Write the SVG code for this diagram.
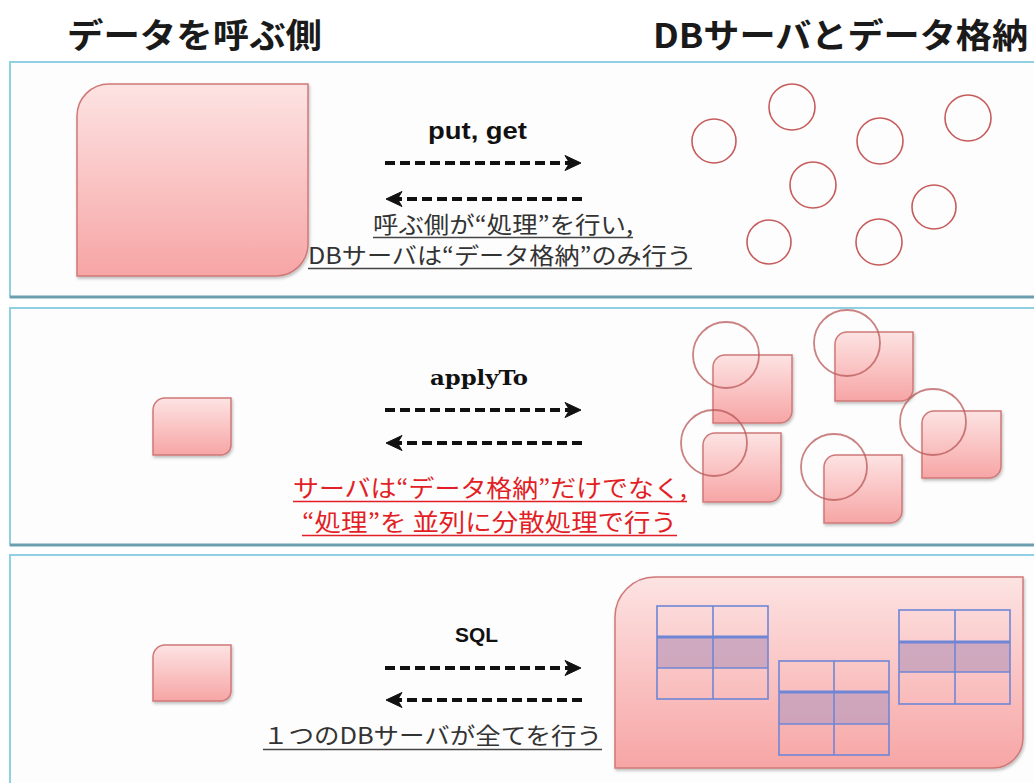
<svg xmlns="http://www.w3.org/2000/svg" width="1034" height="783" viewBox="0 0 1034 783">
<defs>
<linearGradient id="pink" x1="0" y1="0" x2="0" y2="1">
<stop offset="0" stop-color="#fde3e3"/>
<stop offset="1" stop-color="#f7a5a5"/>
</linearGradient>
<filter id="sh" x="-10%" y="-10%" width="130%" height="130%">
<feDropShadow dx="1" dy="2" stdDeviation="1.5" flood-color="#000" flood-opacity="0.25"/>
</filter>
<marker id="ah" markerUnits="userSpaceOnUse" markerWidth="18" markerHeight="18" viewBox="0 0 18 18" refX="14" refY="9" orient="auto">
<path d="M1,1.5 L17,9 L1,16.5 L5.5,9 Z" fill="#111" stroke="#111" stroke-width="1" stroke-linejoin="round"/>
</marker>
<style>
.panel{fill:#fdfdfd;stroke:#8fd0e2;stroke-width:2}
.pbot{stroke:#6b9fb0;stroke-width:3}
.shape{fill:url(#pink);stroke:#cf7878;stroke-width:1.5;filter:url(#sh)}
.ring{fill:none;stroke:#c65c5c;stroke-width:1.6}
.ring2{fill:none;stroke:#b85858;stroke-opacity:0.75;stroke-width:1.8}
.arrow{fill:none;stroke:#111;stroke-width:3.8;stroke-dasharray:10 5}
.head{font-family:"Noto Sans CJK JP","Noto Sans CJK SC",sans-serif;font-weight:bold;font-size:34px;fill:#1a1a1a}
.jp{font-family:"Noto Sans CJK JP","Noto Sans CJK SC",sans-serif;font-size:23px;fill:#333}
.red{font-family:"Noto Sans CJK JP","Noto Sans CJK SC",sans-serif;font-size:24px;fill:#e21f26}
.ul{stroke:#444;stroke-width:1.6}
.ulr{stroke:#e21f26;stroke-width:1.6}
.lbl{font-family:"Liberation Sans",Arial,sans-serif;font-weight:bold;fill:#111}
.tbl{fill:none;stroke:#6f86d6;stroke-width:1.6}
.tbk{stroke:#6f86d6;stroke-width:3}
.shade{fill:#c4a0bc;fill-opacity:0.8}
</style>
</defs>
<rect width="1034" height="783" fill="#ffffff"/>

<g id="headings">
<text class="head" x="67" y="48" textLength="255" lengthAdjust="spacingAndGlyphs">データを呼ぶ側</text>
<text class="head" x="653" y="48" textLength="375" lengthAdjust="spacingAndGlyphs">DBサーバとデータ格納</text>
</g>

<g id="panel1">
<rect class="panel" x="10" y="62" width="1040" height="235"/>
<line class="pbot" x1="10" y1="297" x2="1034" y2="297"/>
</g>
<g id="panel2">
<rect class="panel" x="10" y="308" width="1040" height="237"/>
<line class="pbot" x1="10" y1="545" x2="1034" y2="545"/>
</g>
<g id="panel3">
<rect class="panel" x="10" y="555" width="1040" height="250"/>
</g>

<!-- Panel 1 nodes -->
<g id="caller1">
<path class="shape" d="M109,84 H308 V244 A32,32 0 0 1 276,276 H77 V116 A32,32 0 0 1 109,84 Z"/>
</g>
<g id="store1">
<circle class="ring" cx="792" cy="107" r="23"/>
<circle class="ring" cx="714" cy="141" r="22"/>
<circle class="ring" cx="880" cy="141" r="23"/>
<circle class="ring" cx="968" cy="118" r="23"/>
<circle class="ring" cx="813" cy="185" r="23"/>
<circle class="ring" cx="934" cy="207" r="22"/>
<circle class="ring" cx="769" cy="242" r="22"/>
<circle class="ring" cx="879" cy="242" r="23"/>
</g>
<g id="labels1">
<text class="lbl" x="428" y="139" font-size="24" textLength="99" lengthAdjust="spacingAndGlyphs">put, get</text>
<text class="jp" x="373" y="233" textLength="260" lengthAdjust="spacingAndGlyphs">呼ぶ側が“処理”を行い,</text>
<line class="ul" x1="373" y1="237.5" x2="633" y2="237.5"/>
<text class="jp" x="308" y="264" textLength="384" lengthAdjust="spacingAndGlyphs">DBサーバは“データ格納”のみ行う</text>
<line class="ul" x1="308" y1="268.5" x2="692" y2="268.5"/>
</g>

<!-- Panel 2 nodes -->
<g id="caller2">
<path class="shape" d="M165,398 H231 V445 A10,10 0 0 1 221,455 H153 V410 A12,12 0 0 1 165,398 Z"/>
</g>
<g id="store2">
<path class="shape" d="M725,355 H792 V411 A12,12 0 0 1 780,423 H713 V367 A12,12 0 0 1 725,355 Z"/>
<path class="shape" d="M847,332 H913 V389 A12,12 0 0 1 901,401 H835 V344 A12,12 0 0 1 847,332 Z"/>
<path class="shape" d="M934,411 H1001 V466 A12,12 0 0 1 989,478 H922 V423 A12,12 0 0 1 934,411 Z"/>
<path class="shape" d="M715,433 H781 V490 A12,12 0 0 1 769,502 H703 V445 A12,12 0 0 1 715,433 Z"/>
<path class="shape" d="M836,455 H902 V511 A12,12 0 0 1 890,523 H824 V467 A12,12 0 0 1 836,455 Z"/>
<circle class="ring2" cx="726" cy="355" r="33"/>
<circle class="ring2" cx="847" cy="343" r="33"/>
<circle class="ring2" cx="933" cy="422" r="33"/>
<circle class="ring2" cx="714" cy="443" r="33"/>
<circle class="ring2" cx="834" cy="467" r="33"/>
</g>
<g id="labels2">
<text x="430" y="385" font-family="'DejaVu Serif','Liberation Serif',serif" font-weight="bold" font-size="20" fill="#111" textLength="98" lengthAdjust="spacingAndGlyphs">applyTo</text>
<text class="red" x="293" y="497" textLength="394" lengthAdjust="spacingAndGlyphs">サーバは“データ格納”だけでなく,</text>
<line class="ulr" x1="293" y1="501.5" x2="687" y2="501.5"/>
<text class="red" x="302" y="531" textLength="375" lengthAdjust="spacingAndGlyphs">“処理”を 並列に分散処理で行う</text>
<line class="ulr" x1="302" y1="535.5" x2="677" y2="535.5"/>
</g>

<!-- Panel 3 nodes -->
<g id="caller3">
<path class="shape" d="M165,645 H231 V691 A10,10 0 0 1 221,701 H153 V657 A12,12 0 0 1 165,645 Z"/>
</g>
<g id="dbserver">
<path class="shape" d="M655,577 H1023 V738 A30,30 0 0 1 993,768 H615 V617 A40,40 0 0 1 655,577 Z"/>
<g id="table1">
<rect class="shade" x="657" y="637" width="111" height="31"/>
<rect class="tbl" x="657" y="606" width="111" height="93"/>
<line class="tbl" x1="713" y1="606" x2="713" y2="699"/>
<line class="tbk" x1="657" y1="637" x2="768" y2="637"/>
<line class="tbl" x1="657" y1="668" x2="768" y2="668"/>
</g>
<g id="table2">
<rect class="shade" x="779" y="692" width="110" height="32"/>
<rect class="tbl" x="779" y="661" width="110" height="94"/>
<line class="tbl" x1="834" y1="661" x2="834" y2="755"/>
<line class="tbk" x1="779" y1="692" x2="889" y2="692"/>
<line class="tbl" x1="779" y1="724" x2="889" y2="724"/>
</g>
<g id="table3">
<rect class="shade" x="899" y="642" width="111" height="30"/>
<rect class="tbl" x="899" y="610" width="111" height="94"/>
<line class="tbl" x1="955" y1="610" x2="955" y2="704"/>
<line class="tbk" x1="899" y1="642" x2="1010" y2="642"/>
<line class="tbl" x1="899" y1="672" x2="1010" y2="672"/>
</g>
</g>
<g id="labels3">
<text class="lbl" x="455" y="642" font-size="20" textLength="43" lengthAdjust="spacingAndGlyphs">SQL</text>
<text class="jp" x="263" y="744" textLength="339" lengthAdjust="spacingAndGlyphs">１つのDBサーバが全てを行う</text>
<line class="ul" x1="263" y1="749.5" x2="602" y2="749.5"/>
</g>

<g id="connectors">
<line class="arrow" x1="385" y1="163" x2="578" y2="163" marker-end="url(#ah)"/>
<line class="arrow" x1="582" y1="199" x2="389" y2="199" marker-end="url(#ah)"/>
<line class="arrow" x1="385" y1="410" x2="578" y2="410" marker-end="url(#ah)"/>
<line class="arrow" x1="582" y1="443" x2="389" y2="443" marker-end="url(#ah)"/>
<line class="arrow" x1="385" y1="668" x2="578" y2="668" marker-end="url(#ah)"/>
<line class="arrow" x1="582" y1="700" x2="389" y2="700" marker-end="url(#ah)"/>
</g>
</svg>
